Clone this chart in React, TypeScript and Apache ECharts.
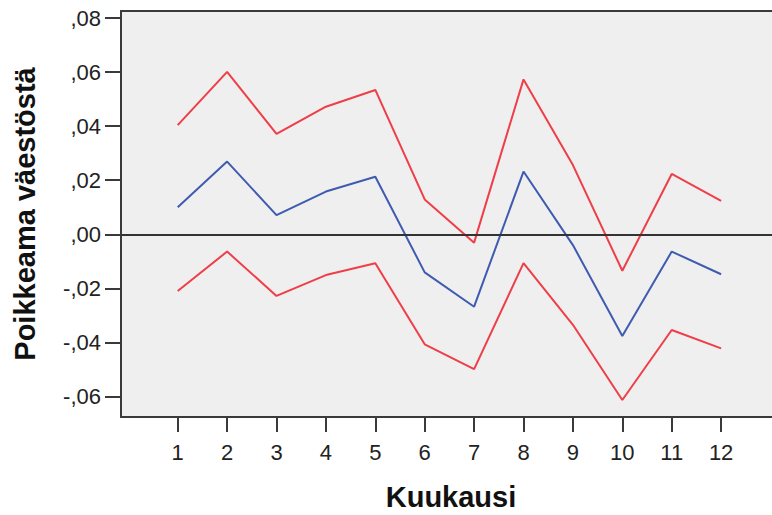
import React, { useEffect, useRef } from "react";
import * as echarts from "echarts";

const months = [1, 2, 3, 4, 5, 6, 7, 8, 9, 10, 11, 12];
const upperValues = [0.0404, 0.0601, 0.0371, 0.0472, 0.0534, 0.0129, -0.0031, 0.0573, 0.0256, -0.0135, 0.0223, 0.0124];
const meanValues = [0.0100, 0.0269, 0.0071, 0.0158, 0.0213, -0.0141, -0.0268, 0.0232, -0.0040, -0.0376, -0.0064, -0.0148];
const lowerValues = [-0.0210, -0.0064, -0.0228, -0.0151, -0.0107, -0.0407, -0.0499, -0.0107, -0.0335, -0.0613, -0.0354, -0.0422];
const yTicks = [-0.06, -0.04, -0.02, 0.0, 0.02, 0.04, 0.06, 0.08];
const yTitle = "Poikkeama väestöstä";
const xTitle = "Kuukausi";

const FONT = "'Liberation Sans', Arial, sans-serif";
const AXIS = "#3a3a3a";

function fmtY(v: number): string {
  const a = Math.abs(v).toFixed(2).slice(1).replace(".", ",");
  return (v < -1e-9 ? "-" : "") + a;
}

export default function App() {
  const ref = useRef<HTMLDivElement>(null);
  useEffect(() => {
    if (!ref.current) return;
    const chart = echarts.init(ref.current, undefined, { renderer: "svg" });
    const pair = (vals: number[]) => months.map((m, i) => [m, vals[i]]);
    const xMin = -0.148;
    const xMax = 13.03;
    chart.setOption({
      animation: false,
      backgroundColor: "#ffffff",
      grid: {
        left: 121,
        top: 11,
        right: 0,
        height: 406,
        show: true,
        backgroundColor: "#efefef",
        borderWidth: 0,
      },
      xAxis: [
        {
          type: "value",
          min: xMin,
          max: xMax,
          position: "bottom",
          axisLine: { show: true, onZero: false, lineStyle: { color: AXIS, width: 2 } },
          splitLine: { show: false },
          axisTick: {
            show: true,
            customValues: months,
            length: 15,
            lineStyle: { color: AXIS, width: 2 },
          },
          axisLabel: {
            customValues: months,
            margin: 24,
            fontSize: 22,
            fontFamily: FONT,
            color: "#222",
          },
        },
        {
          type: "value",
          min: xMin,
          max: xMax,
          position: "top",
          axisLine: { show: true, onZero: false, lineStyle: { color: AXIS, width: 2 } },
          splitLine: { show: false },
          axisTick: { show: false },
          axisLabel: { show: false },
        },
      ],
      yAxis: {
        type: "value",
        min: -0.0676,
        max: 0.0826,
        axisLine: { show: true, onZero: false, lineStyle: { color: AXIS, width: 2 } },
        splitLine: { show: false },
        axisTick: {
          show: true,
          customValues: yTicks,
          length: 16,
          lineStyle: { color: AXIS, width: 2 },
        },
        axisLabel: {
          customValues: yTicks,
          margin: 20,
          fontSize: 22,
          fontFamily: FONT,
          color: "#222",
          formatter: (v: number) => fmtY(v),
        },
      },
      graphic: [
        {
          type: "text",
          x: 25,
          y: 214,
          rotation: Math.PI / 2,
          style: {
            text: yTitle,
            fontSize: 29,
            fontWeight: "bold",
            fontFamily: FONT,
            fill: "#111",
            align: "center",
            verticalAlign: "middle",
          },
        },
        {
          type: "text",
          x: 451,
          y: 497,
          style: {
            text: xTitle,
            fontSize: 29,
            fontWeight: "bold",
            fontFamily: FONT,
            fill: "#111",
            align: "center",
            verticalAlign: "middle",
          },
        },
      ],
      series: [
        {
          type: "line",
          data: [],
          z: 1,
          markLine: {
            silent: true,
            symbol: "none",
            label: { show: false },
            lineStyle: { color: "#333", width: 2, type: "solid" },
            data: [{ yAxis: 0 }],
          },
        },
        {
          type: "line",
          data: pair(upperValues),
          showSymbol: false,
          z: 3,
          lineStyle: { color: "#ef3e48", width: 2 },
          itemStyle: { color: "#ef3e48" },
        },
        {
          type: "line",
          data: pair(meanValues),
          showSymbol: false,
          z: 3,
          lineStyle: { color: "#3f5bb0", width: 2 },
          itemStyle: { color: "#3f5bb0" },
        },
        {
          type: "line",
          data: pair(lowerValues),
          showSymbol: false,
          z: 3,
          lineStyle: { color: "#ef3e48", width: 2 },
          itemStyle: { color: "#ef3e48" },
        },
      ],
    });
    return () => chart.dispose();
  }, []);
  return (
    <div
      ref={ref}
      style={{ position: "fixed", left: 0, top: 0, width: 772, height: 515 }}
    />
  );
}
